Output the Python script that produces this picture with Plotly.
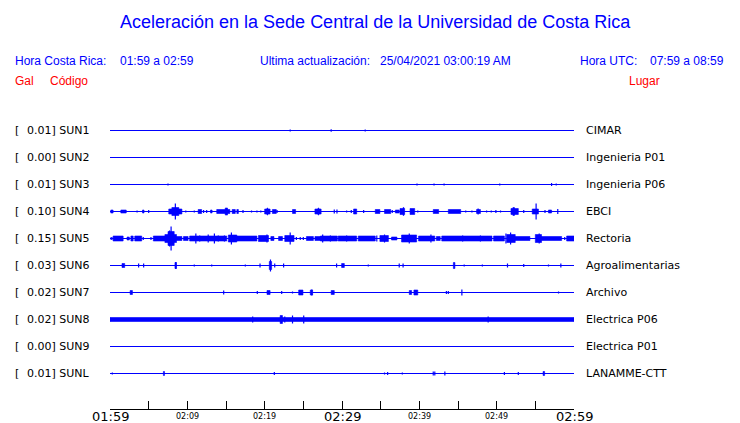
import plotly.graph_objects as go

# ---------------- data ----------------
codes = ["SUN1", "SUN2", "SUN3", "SUN4", "SUN5", "SUN6", "SUN7", "SUN8", "SUN9", "SUNL"]
peaks = ["0.01", "0.00", "0.01", "0.10", "0.15", "0.03", "0.02", "0.02", "0.00", "0.01"]
places = ["CIMAR", "Ingenieria P01", "Ingenieria P06", "EBCI", "Rectoria",
          "Agroalimentarias", "Archivo", "Electrica P06", "Electrica P01", "LANAMME-CTT"]

tick_minutes = [0, 5, 10, 15, 20, 25, 30, 35, 40, 45, 50, 55, 60]
label_minutes = [0, 10, 20, 30, 40, 50, 60]
label_texts = ["01:59", "02:09", "02:19", "02:29", "02:39", "02:49", "02:59"]
label_major = [True, False, False, True, False, False, True]

# events per station: (start minute, end minute, half amplitude in counts)
ev_SUN1 = [(23.3, 23.3, 1), (28.6, 28.6, 1.2), (33.0, 33.0, 1)]
ev_SUN2 = []
ev_SUN3 = [(7.5, 7.5, 1), (39.7, 39.7, 1), (41.9, 41.9, 1), (43.2, 43.2, 1),
           (50.4, 50.4, 1), (57.1, 57.1, 1.5), (57.7, 57.7, 1)]
ev_SUN4 = [(0.1, 0.4, 1.5), (1.4, 2.1, 1.5), (3.5, 3.5, 1), (4.2, 4.4, 1.5), (5.0, 5.0, 1.5),
           (7.6, 9.3, 2.5), (8.0, 8.9, 4), (8.45, 8.45, 8),
           (9.8, 9.8, 1), (10.9, 10.9, 1), (11.4, 11.85, 2), (12.1, 12.1, 1.5), (12.5, 12.5, 1.5),
           (13.0, 13.2, 1.5), (13.8, 15.5, 2), (14.9, 15.2, 3.5), (15.8, 16.2, 2), (16.4, 16.6, 2),
           (17.2, 17.2, 1.5), (18.3, 18.3, 1), (19.0, 19.0, 1), (19.5, 19.5, 1),
           (20.0, 20.7, 2.5), (20.3, 20.4, 3.5), (21.0, 21.5, 2), (21.6, 21.6, 1.5), (23.6, 24.0, 2),
           (26.5, 27.3, 2.5), (26.9, 27.0, 3.5), (29.0, 29.0, 2), (29.35, 29.35, 2),
           (30.6, 30.6, 1), (31.2, 31.2, 1.5), (31.5, 31.9, 2.5), (32.8, 32.8, 1.5), (34.3, 34.9, 2),
           (35.5, 36.3, 2), (36.5, 36.5, 1.5), (36.9, 37.4, 1.5), (37.5, 38.1, 3), (37.9, 38.0, 4),
           (38.8, 39.4, 3), (39.8, 39.8, 1), (41.8, 42.5, 2), (43.75, 45.35, 2), (46.0, 46.0, 1),
           (46.8, 46.8, 1), (47.4, 47.9, 2), (47.6, 47.6, 3), (48.7, 48.7, 1), (49.3, 49.3, 1),
           (49.9, 49.9, 1.5), (50.5, 50.5, 1), (51.85, 52.8, 3), (52.1, 52.3, 4), (53.5, 53.5, 1.5),
           (54.6, 55.4, 2.5), (55.1, 55.1, 8), (56.25, 56.25, 1.5), (56.7, 57.1, 1.5), (57.9, 57.9, 2.5)]
ev_SUN5 = [(0.1, 0.3, 1), (0.4, 1.7, 2.5), (2.2, 2.5, 1.5), (2.7, 3.0, 2.5), (3.2, 4.1, 2.5),
           (4.3, 4.3, 1.5), (5.3, 5.3, 1.5), (5.6, 7.3, 2.5),
           (7.1, 8.6, 4), (7.5, 8.3, 7), (7.7, 7.7, 8), (7.9, 7.9, 12), (8.6, 9.3, 2), (9.5, 10.1, 2),
           (10.3, 15.1, 2.5), (11.1, 11.1, 5), (11.6, 11.6, 3), (12.7, 12.7, 4), (13.5, 13.5, 5),
           (14.0, 14.0, 3), (14.8, 14.8, 3),
           (15.3, 16.4, 3.5), (15.7, 15.7, 6), (16.4, 19.0, 2.5), (19.2, 20.5, 3), (20.3, 20.3, 4),
           (20.8, 21.2, 2), (21.8, 22.3, 2), (22.6, 23.8, 3), (23.3, 23.3, 6),
           (24.1, 24.1, 1.5), (24.6, 24.6, 1.5), (25.0, 25.0, 1.5), (25.4, 26.3, 2), (26.5, 27.5, 2),
           (27.2, 29.4, 2.5), (27.5, 27.5, 4), (28.5, 28.5, 3),
           (29.5, 31.9, 2.5), (30.6, 30.6, 3), (32.1, 34.3, 2.5), (34.5, 34.5, 3), (34.9, 36.0, 3),
           (35.5, 35.5, 4), (36.4, 37.1, 1.5), (37.7, 39.65, 3.5), (38.7, 38.7, 5), (39.9, 42.0, 2.5),
           (41.5, 41.5, 4), (42.2, 42.7, 2), (42.9, 49.4, 2.5), (45.6, 45.6, 3), (47.9, 47.9, 3),
           (49.6, 51.0, 2.5), (51.2, 51.2, 5), (51.3, 52.4, 4), (51.8, 51.8, 6), (52.4, 54.3, 2),
           (55.0, 55.8, 4), (55.5, 55.5, 5), (55.8, 58.4, 2), (58.8, 58.8, 1.5), (59.05, 60.0, 2.5)]
ev_SUN6 = [(1.55, 1.9, 2), (3.7, 3.7, 2), (4.35, 4.35, 2), (8.4, 8.6, 3), (8.5, 8.5, 3.5),
           (10.9, 10.9, 1), (13.15, 13.15, 1), (17.5, 17.5, 1), (19.4, 19.4, 2), (20.6, 20.9, 4),
           (20.75, 20.75, 6), (21.3, 21.3, 2), (22.45, 22.45, 2), (29.3, 29.3, 2), (29.95, 30.3, 2),
           (33.4, 33.4, 1), (37.4, 37.4, 2), (37.9, 37.9, 2), (44.4, 44.6, 3), (45.8, 45.8, 1),
           (48.15, 48.15, 1), (51.4, 51.4, 2), (53.5, 53.5, 1.5), (56.7, 56.7, 1), (58.3, 58.3, 2)]
ev_SUN7 = [(2.6, 2.9, 2), (14.7, 14.7, 2), (19.05, 19.05, 1.5), (20.3, 20.7, 2), (22.2, 22.2, 1.5),
           (23.6, 23.6, 1), (24.4, 24.95, 2.5), (25.9, 26.2, 2.5), (26.1, 26.1, 3), (28.6, 29.0, 2),
           (38.7, 39.0, 2), (39.3, 39.8, 2.5), (43.5, 43.5, 1.5), (43.75, 43.75, 1.5),
           (45.5, 45.5, 3), (58.0, 58.0, 1)]
ev_SUN8 = [(0.0, 60.0, 2), (18.45, 18.45, 3), (22.0, 22.3, 4), (22.6, 22.6, 3), (23.6, 23.6, 4),
           (25.05, 25.05, 4), (48.9, 48.9, 3)]
ev_SUN9 = []
ev_SUNL = [(0.3, 0.3, 1), (6.9, 7.05, 2), (21.25, 21.25, 1.5), (35.5, 35.5, 1), (35.9, 35.9, 1.5),
           (37.8, 37.8, 1), (41.8, 41.8, 2), (42.0, 42.0, 2), (43.3, 43.3, 2), (51.0, 51.0, 1.5),
           (52.8, 52.8, 1.5), (56.0, 56.2, 2)]

events = [ev_SUN1, ev_SUN2, ev_SUN3, ev_SUN4, ev_SUN5, ev_SUN6, ev_SUN7, ev_SUN8, ev_SUN9, ev_SUNL]

# ---------------- figure ----------------
BLUE = "#0000FF"
RED = "#FF0000"
COUNTS_PER_ROW = 27.0

W, H = 740, 423
L, R, T, B = 110, 574, 103, 409
ROW0 = 130.5  # pixel centre of first row

def px2x(px):
    return (px - L) / (R - L)

def py2y(py):
    return (B - py) / (B - T)

fig = go.Figure()

for i, evs in enumerate(events):
    y0 = -i
    fig.add_trace(go.Scatter(x=[0, 60], y=[y0, y0], mode="lines",
                             line=dict(color=BLUE, width=1), hoverinfo="skip"))
    bx, by, sx, sy = [], [], [], []
    for t0, t1, a in evs:
        h = a / COUNTS_PER_ROW
        if t1 > t0:
            bx += [t0, t1, t1, t0, t0, None]
            by += [y0 - h, y0 - h, y0 + h, y0 + h, y0 - h, None]
        else:
            sx += [t0, t0, None]
            sy += [y0 - h, y0 + h, None]
    if bx:
        fig.add_trace(go.Scatter(x=bx, y=by, mode="lines", fill="toself",
                                 fillcolor=BLUE, line=dict(color=BLUE, width=0.6),
                                 hoverinfo="skip"))
    if sx:
        fig.add_trace(go.Scatter(x=sx, y=sy, mode="lines",
                                 line=dict(color=BLUE, width=1.2), hoverinfo="skip"))

ann = []
row_font = dict(family="DejaVu Sans", size=11, color="black")
for i in range(len(codes)):
    ann.append(dict(x=px2x(13), xref="paper", y=-i, yref="y", text="[", showarrow=False,
                    xanchor="left", yanchor="middle", font=row_font))
    ann.append(dict(x=px2x(25), xref="paper", y=-i, yref="y",
                    text=f"{peaks[i]}] {codes[i]}", showarrow=False,
                    xanchor="left", yanchor="middle", font=row_font))
    ann.append(dict(x=px2x(584), xref="paper", y=-i, yref="y", text=places[i],
                    showarrow=False, xanchor="left", yanchor="middle", font=row_font))

for m, txt, major in zip(label_minutes, label_texts, label_major):
    ann.append(dict(x=m, xref="x", y=py2y(416), yref="paper", text=txt, showarrow=False,
                    xanchor="center", yanchor="middle",
                    font=dict(family="DejaVu Sans", size=13 if major else 8,
                              color="black")))

hdr = dict(family="Liberation Sans, Arial", size=12, color=BLUE)
red = dict(family="Liberation Sans, Arial", size=12, color=RED)
for px, txt, f in [(13, "Hora Costa Rica:", hdr), (118, "01:59 a 02:59", hdr),
                   (258, "Ultima actualización:", hdr), (378, "25/04/2021 03:00:19 AM", hdr),
                   (578, "Hora UTC:", hdr), (648, "07:59 a 08:59", hdr)]:
    ann.append(dict(x=px2x(px), xref="paper", y=py2y(61), yref="paper", text=txt,
                    showarrow=False, xanchor="left", yanchor="middle", font=f))
for px, txt in [(13, "Gal"), (48, "Código"), (627, "Lugar")]:
    ann.append(dict(x=px2x(px), xref="paper", y=py2y(81), yref="paper", text=txt,
                    showarrow=False, xanchor="left", yanchor="middle", font=red))

ann.append(dict(x=px2x(375), xref="paper", y=py2y(22), yref="paper",
                text="Aceleración en la Sede Central de la Universidad de Costa Rica",
                showarrow=False, xanchor="center", yanchor="middle",
                font=dict(family="Liberation Sans, Arial", size=18, color=BLUE)))

fig.update_layout(
    width=W, height=H, autosize=False,
    margin=dict(l=L, r=W - R, t=T, b=H - B, pad=0),
    paper_bgcolor="white", plot_bgcolor="white",
    showlegend=False,
    annotations=ann,
    xaxis=dict(range=[0, 60], tickvals=tick_minutes, showticklabels=False,
               ticks="inside", ticklen=8, tickwidth=1, tickcolor="black",
               showline=True, linecolor="black", linewidth=1,
               showgrid=False, zeroline=False, fixedrange=True),
    yaxis=dict(range=[-(B - ROW0) / COUNTS_PER_ROW, (ROW0 - T) / COUNTS_PER_ROW],
               visible=False, showgrid=False, zeroline=False, fixedrange=True),
)

fig.write_html("out.html", config={"displayModeBar": False},
               post_script="document.body.style.margin='0';document.body.style.overflow='hidden';")
